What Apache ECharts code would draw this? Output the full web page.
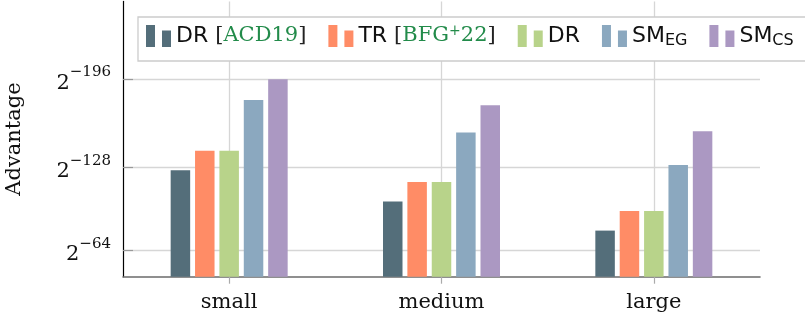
<!DOCTYPE html>
<html><head><meta charset="utf-8">
<script src="https://cdn.jsdelivr.net/npm/echarts@6/dist/echarts.min.js"></script>
<style>html,body{margin:0;padding:0;background:#fff}#c{width:805px;height:320px}</style>
</head><body><div id="c"></div>
<script>
// data: y = -log2(Advantage)
const categories = ['small', 'medium', 'large'];
const seriesNames = ['DR [ACD19]', 'TR [BFG+22]', 'DR', 'SM EG', 'SM CS'];
const drACD19 = [126, 102, 79.5];
const trBFG22 = [141, 117, 94.5];
const drOurs = [141, 117, 94.5];
const smEG = [180, 155, 130];
const smCS = [196, 176, 156];
const yTicks = [64, 128, 196];
const colors = ['#546e7a', '#ff8c66', '#b8d38a', '#8ba8bf', '#ab98c2'];

const seriesData = [drACD19, trBFG22, drOurs, smEG, smCS];
function legendFmt(name) {
  if (name === 'DR [ACD19]') return '{t|DR }{c|[}{g|ACD19}{c|]}';
  if (name === 'TR [BFG+22]') return '{t|TR }{c|[}{g|BFG}{gs|+}{g|22}{c|]}';
  if (name === 'DR') return '{t|DR}';
  if (name === 'SM EG') return '{t|SM}{sub|EG}';
  if (name === 'SM CS') return '{t|SM}{sub|CS}';
  return name;
}
const chart = echarts.init(document.getElementById('c'), null, {renderer: 'canvas'});
const serif = 'DejaVu Serif';
const sans = 'DejaVu Sans';
chart.setOption({
  animation: false,
  grid: {left: 123, right: 45, top: 1.4, bottom: 43.3, containLabel: false, outerBoundsMode: 'none'},
  legend: {
    left: 138, top: 17,
    width: 1200,
    orient: 'horizontal',
    backgroundColor: '#fff',
    borderColor: '#cccccc', borderWidth: 1.3, borderRadius: 0,
    padding: [7, 30, 12, 8],
    itemGap: 22,
    itemWidth: 25, itemHeight: 22,
    icon: 'path://M0,0H9V22H0Z M16,5.5H25V22H16Z',
    data: seriesNames,
    formatter: legendFmt,
    textStyle: {
      fontFamily: sans, fontSize: 22, color: '#111',
      rich: {
        t: {fontFamily: sans, fontSize: 22, color: '#111'},
        c: {fontFamily: serif, fontSize: 21, color: '#222'},
        g: {fontFamily: serif, fontSize: 21, color: '#228b4a'},
        gs: {fontFamily: serif, fontSize: 14, color: '#228b4a', verticalAlign: 'top', padding: [0, 0, 10, 0]},
        sub: {fontFamily: sans, fontSize: 16, color: '#111', verticalAlign: 'bottom', padding: [10, 0, 0, 0]}
      }
    }
  },
  xAxis: {
    type: 'category',
    data: categories,
    boundaryGap: true,
    axisLine: {show: true, lineStyle: {color: '#6b6b6b', width: 1.6}},
    axisTick: {show: true, alignWithLabel: true, length: 7, lineStyle: {color: '#aaaaaa', width: 1.2}},
    axisLabel: {fontFamily: serif, fontSize: 21, color: '#111', margin: 15},
    splitLine: {show: true, alignWithLabel: true, lineStyle: {color: '#d6d6d6', width: 1.3}}
  },
  yAxis: {
    type: 'value',
    min: 44, max: 256,
    name: 'Advantage',
    nameLocation: 'middle',
    nameRotate: 90,
    nameGap: 98,
    nameTextStyle: {fontFamily: serif, fontSize: 21, color: '#111'},
    axisLine: {show: true, lineStyle: {color: '#000', width: 1.2}},
    axisTick: {show: true, inside: true, length: 10, customValues: yTicks, lineStyle: {color: '#999', width: 1.2}},
    axisLabel: {
      customValues: yTicks,
      margin: 12,
      formatter: v => '{b|2}{s|−' + v + '}',
      rich: {
        b: {fontFamily: serif, fontSize: 21, color: '#111', verticalAlign: 'bottom', padding: [8, 0, 0, 0]},
        s: {fontFamily: serif, fontSize: 15, color: '#111', verticalAlign: 'top', padding: [0, 0, 8, 0]}
      }
    },
    splitLine: {show: true, lineStyle: {color: '#d6d6d6', width: 1.3}}
  },
  series: seriesNames.map((n, i) => ({
    name: n,
    type: 'bar',
    data: seriesData[i],
    barWidth: 19.5,
    barGap: '25%',
    itemStyle: {color: colors[i]}
  }))
});
</script></body></html>
